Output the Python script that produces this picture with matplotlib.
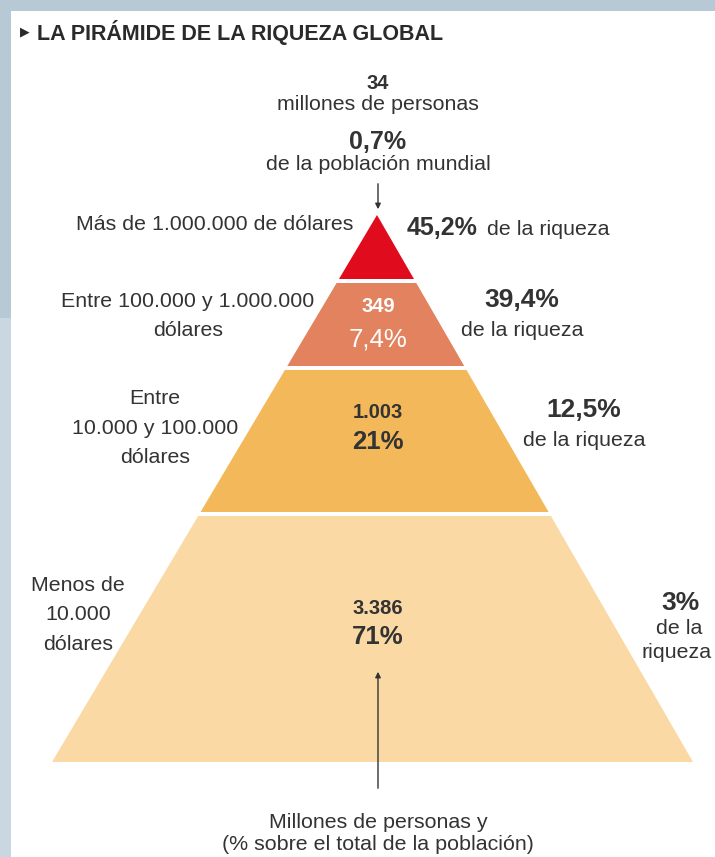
import matplotlib
matplotlib.use("Agg")
import matplotlib.pyplot as plt
from matplotlib.patches import Polygon, Rectangle

plt.rcParams['font.family'] = ['Liberation Sans', 'DejaVu Sans']

# Data (top tier first)
tier_labels = [
    "Más de 1.000.000 de dólares",
    "Entre 100.000 y 1.000.000\ndólares",
    "Entre\n10.000 y 100.000\ndólares",
    "Menos de\n10.000\ndólares",
]
people_millions = [34, 349, 1003, 3386]
population_share = [0.7, 7.4, 21, 71]
wealth_share = [45.2, 39.4, 12.5, 3]
tier_colors = ["#e00b1c", "#e2825f", "#f3b85a", "#fad9a5"]

title = "LA PIRÁMIDE DE LA RIQUEZA GLOBAL"
bottom_note = ["Millones de personas y", "(% sobre el total de la población)"]

TXT = "#333333"


def es_num(v):
    return f"{v:,}".replace(",", ".")


def es_pct(v):
    return f"{v:g}".replace(".", ",") + "%"


# Layout (pixel space of the 715x857 picture)
W, H = 715, 857
apex = (377, 215)
base_y = 762
base_left, base_right = 52, 693
tier_top = [215, 283, 370, 516]
tier_bot = [279, 366, 512, 762]

fig = plt.figure(figsize=(W / 100, H / 100), dpi=100)
fig.patch.set_facecolor("#b6c9d5")
ax = fig.add_axes([0, 0, 1, 1])
ax.set_xlim(0, W)
ax.set_ylim(H, 0)
ax.axis("off")

# frame: white panel and the lighter strip on the lower left
ax.add_patch(Rectangle((0, 318), 11, H - 318, color="#c8d7e0", lw=0))
ax.add_patch(Rectangle((11, 11), W - 11, H - 11, color="white", lw=0))


def edge_x(y, base_x):
    t = (y - apex[1]) / (base_y - apex[1])
    return apex[0] + (base_x - apex[0]) * t


for i, col in enumerate(tier_colors):
    t, b = tier_top[i], tier_bot[i]
    pts = [(edge_x(t, base_left), t), (edge_x(t, base_right), t),
           (edge_x(b, base_right), b), (edge_x(b, base_left), b)]
    ax.add_patch(Polygon(pts, closed=True, color=col, lw=0))

# title
ax.text(20, 32, "▶", fontsize=9, color="#2a2a2a", va="center", ha="left",
        family=['DejaVu Sans'])
ax.text(37, 32, title, fontsize=15.5, fontweight="bold", color="#2a2a2a",
        va="center", ha="left")

cx = 378
# top tier: numbers above the apex
ax.text(cx, 83, es_num(people_millions[0]), fontsize=14.5, fontweight="bold",
        color=TXT, ha="center", va="center")
ax.text(cx, 104, "millones de personas", fontsize=15.4, color=TXT,
        ha="center", va="center")
ax.text(cx, 142, es_pct(population_share[0]), fontsize=18, fontweight="bold",
        color=TXT, ha="center", va="center")
ax.text(cx, 164, "de la población mundial", fontsize=15.4, color=TXT,
        ha="center", va="center")
ax.annotate("", xy=(cx, 212), xytext=(cx, 181),
            arrowprops=dict(arrowstyle="-|>", color="#333333", lw=1,
                            mutation_scale=8))

# numbers inside the lower tiers
inner_y = [None, (307, 339), (412, 442), (608, 637)]
inner_col = [None, "white", TXT, TXT]
for i in range(1, 4):
    y1, y2 = inner_y[i]
    ax.text(cx, y1, es_num(people_millions[i]), fontsize=14.5,
            fontweight="bold", color=inner_col[i], ha="center", va="center")
    ax.text(cx, y2, es_pct(population_share[i]), fontsize=18.5,
            fontweight="normal" if i == 1 else "bold",
            color=inner_col[i], ha="center", va="center")

# left labels
ax.text(353, 224, tier_labels[0], fontsize=15.4, color=TXT, ha="right",
        va="center")
left_pos = [None, (188, 316), (155, 428), (78, 615)]
for i in range(1, 4):
    x, y = left_pos[i]
    ax.text(x, y, tier_labels[i], fontsize=15.4, color=TXT, ha="center",
            va="center", multialignment="center", linespacing=1.7)

# right labels (share of wealth)
ax.text(407, 228, es_pct(wealth_share[0]), fontsize=18, fontweight="bold",
        color=TXT, ha="left", va="center")
ax.text(487, 229, "de la riqueza", fontsize=15.4, color=TXT, ha="left",
        va="center")
right_pos = [None, (522, 300, 330), (584, 410, 440)]
for i in range(1, 3):
    x, y1, y2 = right_pos[i]
    ax.text(x, y1, es_pct(wealth_share[i]), fontsize=19, fontweight="bold",
            color=TXT, ha="center", va="center")
    ax.text(x, y2, "de la riqueza", fontsize=15.4, color=TXT, ha="center",
            va="center")
ax.text(680, 603, es_pct(wealth_share[3]), fontsize=19, fontweight="bold",
        color=TXT, ha="center", va="center")
ax.text(679, 628, "de la", fontsize=15.4, color=TXT, ha="center", va="center")
ax.text(677, 652, "riqueza", fontsize=15.4, color=TXT, ha="center",
        va="center")

# bottom arrow and note
ax.annotate("", xy=(cx, 669), xytext=(cx, 791),
            arrowprops=dict(arrowstyle="-|>", color="#333333", lw=1,
                            mutation_scale=8))
ax.text(cx, 823, bottom_note[0], fontsize=15.4, color=TXT, ha="center",
        va="center")
ax.text(cx, 844, bottom_note[1], fontsize=15.4, color=TXT, ha="center",
        va="center")

fig.savefig("out.png", dpi=100, facecolor=fig.get_facecolor())
